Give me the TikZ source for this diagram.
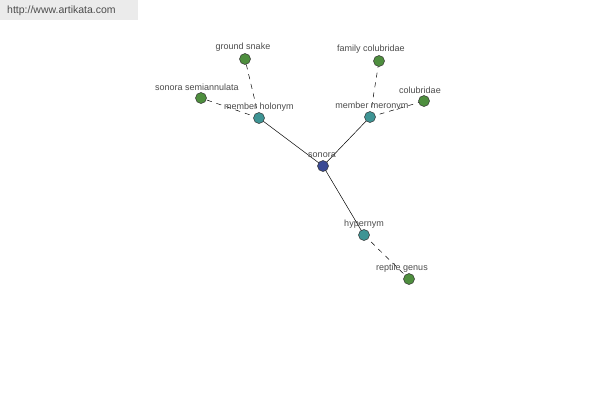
\documentclass[tikz,border=0pt]{standalone}
\usepackage{fontspec}
\setmainfont{Liberation Sans}
\begin{document}
\begin{tikzpicture}[x=1pt,y=-1pt,
  dot/.style={circle,draw=black!80,line width=0.5pt,minimum size=11pt,inner sep=0pt},
  lab/.style={font=\fontsize{9}{10}\selectfont,text=black!70,inner sep=0pt},
  solidedge/.style={draw=black,line width=0.5pt},
  dashedge/.style={draw=black,line width=0.5pt,dash pattern=on 5pt off 5pt}]
\definecolor{cblue}{HTML}{3A4A94}
\definecolor{cteal}{HTML}{3E9494}
\definecolor{cgreen}{HTML}{4E8E3E}
\definecolor{wmbg}{HTML}{EBEBEB}
\useasboundingbox (0,0) rectangle (600,400);
\fill[white] (0,0) rectangle (600,400);
\fill[wmbg] (0,0) rectangle (138,20);
\node[anchor=west,font=\fontsize{10.5}{12}\selectfont,text=black!70,inner sep=0pt] (wm) at (7,11) {http://www.artikata.com};
% node positions
\coordinate (csonora) at (323,166);
\coordinate (cmh) at (259,118);
\coordinate (cmm) at (370,117);
\coordinate (chyp) at (364,235);
\coordinate (cgs) at (245,59);
\coordinate (css) at (201,98);
\coordinate (cfc) at (379,61);
\coordinate (ccol) at (424,101);
\coordinate (crg) at (409,279);
% edges (centre to centre, under the dots)
\draw[solidedge] (csonora) -- (cmh);
\draw[solidedge] (csonora) -- (cmm);
\draw[solidedge] (csonora) -- (chyp);
\draw[dashedge] (cmh) -- (cgs);
\draw[dashedge] (cmh) -- (css);
\draw[dashedge] (cmm) -- (cfc);
\draw[dashedge] (cmm) -- (ccol);
\draw[dashedge] (chyp) -- (crg);
% nodes
\node[dot,fill=cblue] (sonora) at (csonora) {};
\node[dot,fill=cteal] (mh) at (cmh) {};
\node[dot,fill=cteal] (mm) at (cmm) {};
\node[dot,fill=cteal] (hyp) at (chyp) {};
\node[dot,fill=cgreen] (gs) at (cgs) {};
\node[dot,fill=cgreen] (ss) at (css) {};
\node[dot,fill=cgreen] (fc) at (cfc) {};
\node[dot,fill=cgreen] (col) at (ccol) {};
\node[dot,fill=cgreen] (rg) at (crg) {};
% labels
\node[lab] (lsonora) at (322,155) {sonora};
\node[lab] (lmh) at (259,107) {member holonym};
\node[lab] (lmm) at (372,106) {member meronym};
\node[lab] (lhyp) at (364,224) {hypernym};
\node[lab] (lgs) at (243,47) {ground snake};
\node[lab] (lss) at (197,87) {sonora semiannulata};
\node[lab] (lfc) at (371,49) {family colubridae};
\node[lab] (lcol) at (420,90) {colubridae};
\node[lab] (lrg) at (402,268) {reptile genus};
\end{tikzpicture}
\end{document}
